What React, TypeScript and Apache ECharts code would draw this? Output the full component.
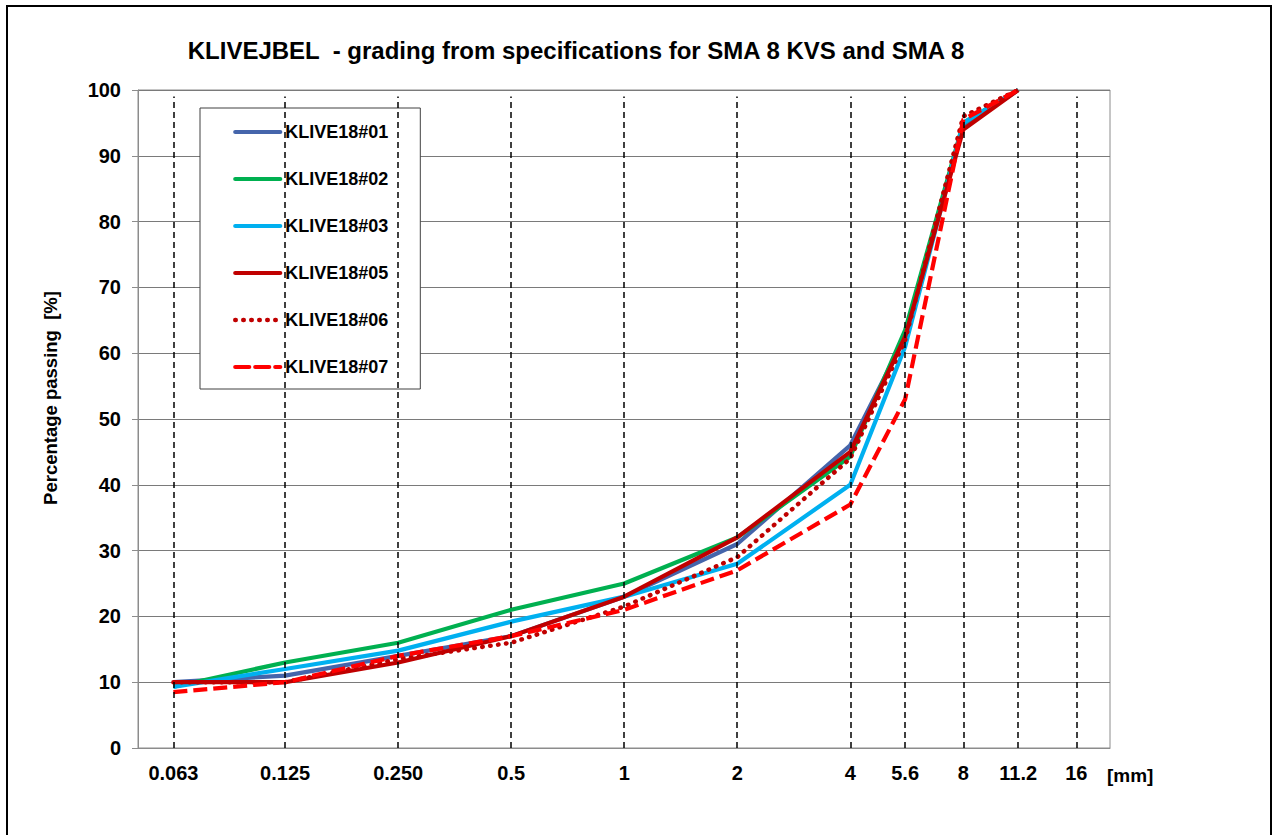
import { useEffect, useRef } from "react";
import * as echarts from "echarts";

const FONT = "'Liberation Sans', Arial, sans-serif";

// sieve sizes (mm) where passing values were measured
const sieveSizes = [0.063, 0.125, 0.25, 0.5, 1, 2, 4, 5.6, 8, 11.2];
// dashed reference lines / tick labels on the x axis
const gridSizes = [0.063, 0.125, 0.25, 0.5, 1, 2, 4, 5.6, 8, 11.2, 16];
const gridLabels = ["0.063", "0.125", "0.250", "0.5", "1", "2", "4", "5.6", "8", "11.2", "16"];

const seriesNames = ["KLIVE18#01", "KLIVE18#02", "KLIVE18#03", "KLIVE18#05", "KLIVE18#06", "KLIVE18#07"];
const klive01 = [10, 11, 14, 17, 23, 31, 46, 62.5, 94.5, 100];
const klive02 = [9.3, 13, 16, 21, 25, 32, 44.3, 63.5, 95, 100];
const klive03 = [9.3, 12, 14.8, 19.2, 23, 28, 40, 61, 95, 100];
const klive05 = [10, 10, 13, 17, 23, 32, 45, 62.5, 94, 100];
const klive06 = [10, 10, 13.5, 16, 21.5, 29, 44, 62, 96, 100];
const klive07 = [8.5, 10, 14, 17, 21, 27, 37, 53, 95.5, 100];

const seriesValues = [klive01, klive02, klive03, klive05, klive06, klive07];
const seriesColors = ["#4565AB", "#00B050", "#00B0F0", "#C00000", "#C00000", "#FF0000"];
const seriesDash: any[] = ["solid", "solid", "solid", "solid", [0.5, 7.5], [14, 6]];

export default function App() {
  const ref = useRef<HTMLDivElement>(null);
  useEffect(() => {
    if (!ref.current) return;
    const chart = echarts.init(ref.current, null, { renderer: "svg" });
    const series: any[] = seriesNames.map((name, si) => ({
      name,
      type: "line",
      symbol: "none",
      showSymbol: false,
      z: 3,
      data: sieveSizes.map((s, i) => [s, seriesValues[si][i]]),
      lineStyle: {
        color: seriesColors[si],
        width: si === 4 ? 4.5 : 4.2,
        type: seriesDash[si],
        cap: si === 4 ? "round" : "butt",
        join: "round",
      },
      itemStyle: { color: seriesColors[si] },
      emphasis: { disabled: true },
    }));
    series[0].markLine = {
      silent: true,
      symbol: ["none", "none"],
      animation: false,
      emphasis: { disabled: true },
      lineStyle: { color: "#000", type: [6, 4], width: 1.5 },
      label: {
        show: true,
        position: "start",
        distance: 15,
        color: "#000",
        fontSize: 20,
        fontWeight: "bold",
        fontFamily: FONT,
        formatter: "{b}",
      },
      data: gridSizes.map((s, i) => [
        { name: gridLabels[i], coord: [s, 0] },
        { coord: [s, 99] },
      ]),
    };

    chart.setOption({
      animation: false,
      backgroundColor: "#fff",
      title: {
        text: "KLIVEJBEL  - grading from specifications for SMA 8 KVS and SMA 8",
        left: 571,
        top: 33,
        textAlign: "center",
        textStyle: { fontFamily: FONT, fontSize: 24, fontWeight: "bold", color: "#000" },
      },
      legend: {
        orient: "vertical",
        left: 200,
        top: 108,
        data: seriesNames,
        itemWidth: 45,
        itemHeight: 14,
        itemGap: 29,
        padding: [15, 32, 13, 33],
        borderColor: "#404040",
        borderWidth: 1,
        backgroundColor: "#fff",
        selectedMode: false,
        itemStyle: { color: "transparent", borderColor: "transparent", borderWidth: 0, opacity: 0 },
        lineStyle: { width: "inherit", cap: "round" },
        textStyle: { fontFamily: FONT, fontSize: 18, fontWeight: "bold", color: "#000" },
      },
      grid: {
        left: 138,
        top: 90,
        right: 169,
        bottom: 87,
        show: true,
        borderColor: "#8c8c8c",
        borderWidth: 1,
        backgroundColor: "transparent",
      },
      xAxis: {
        type: "log",
        logBase: 2,
        min: 0.0507,
        max: 19.67,
        axisLine: { show: true, lineStyle: { color: "#8c8c8c", width: 1 } },
        axisTick: { show: false },
        axisLabel: { show: false },
        splitLine: { show: false },
      },
      yAxis: {
        type: "value",
        min: 0,
        max: 100,
        interval: 10,
        axisLine: { show: true, lineStyle: { color: "#8c8c8c", width: 1 } },
        axisTick: { show: true, inside: false, length: 6, lineStyle: { color: "#8c8c8c" } },
        axisLabel: {
          margin: 17,
          color: "#000",
          fontSize: 20,
          fontWeight: "bold",
          fontFamily: FONT,
        },
        splitLine: { show: true, lineStyle: { color: "#7a7a7a", width: 1 } },
      },
      graphic: [
        {
          type: "rect",
          silent: true,
          z: 0,
          shape: { x: 7, y: 6, width: 1264, height: 845 },
          style: { fill: "none", stroke: "#000", lineWidth: 2 },
        },
        {
          type: "text",
          x: 50,
          y: 398,
          rotation: Math.PI / 2,
          style: {
            text: "Percentage passing  [%]",
            fontFamily: FONT,
            fontSize: 18.5,
            fontWeight: "bold",
            fill: "#000",
            textAlign: "center",
            textVerticalAlign: "middle",
          },
        },
        {
          type: "text",
          x: 1107,
          y: 775,
          style: {
            text: "[mm]",
            fontFamily: FONT,
            fontSize: 19,
            fontWeight: "bold",
            fill: "#000",
            textAlign: "left",
            textVerticalAlign: "middle",
          },
        },
      ],
      series,
    });
    return () => chart.dispose();
  }, []);
  return (
    <div
      ref={ref}
      style={{ position: "fixed", left: 0, top: 0, width: 1279, height: 835 }}
    />
  );
}
